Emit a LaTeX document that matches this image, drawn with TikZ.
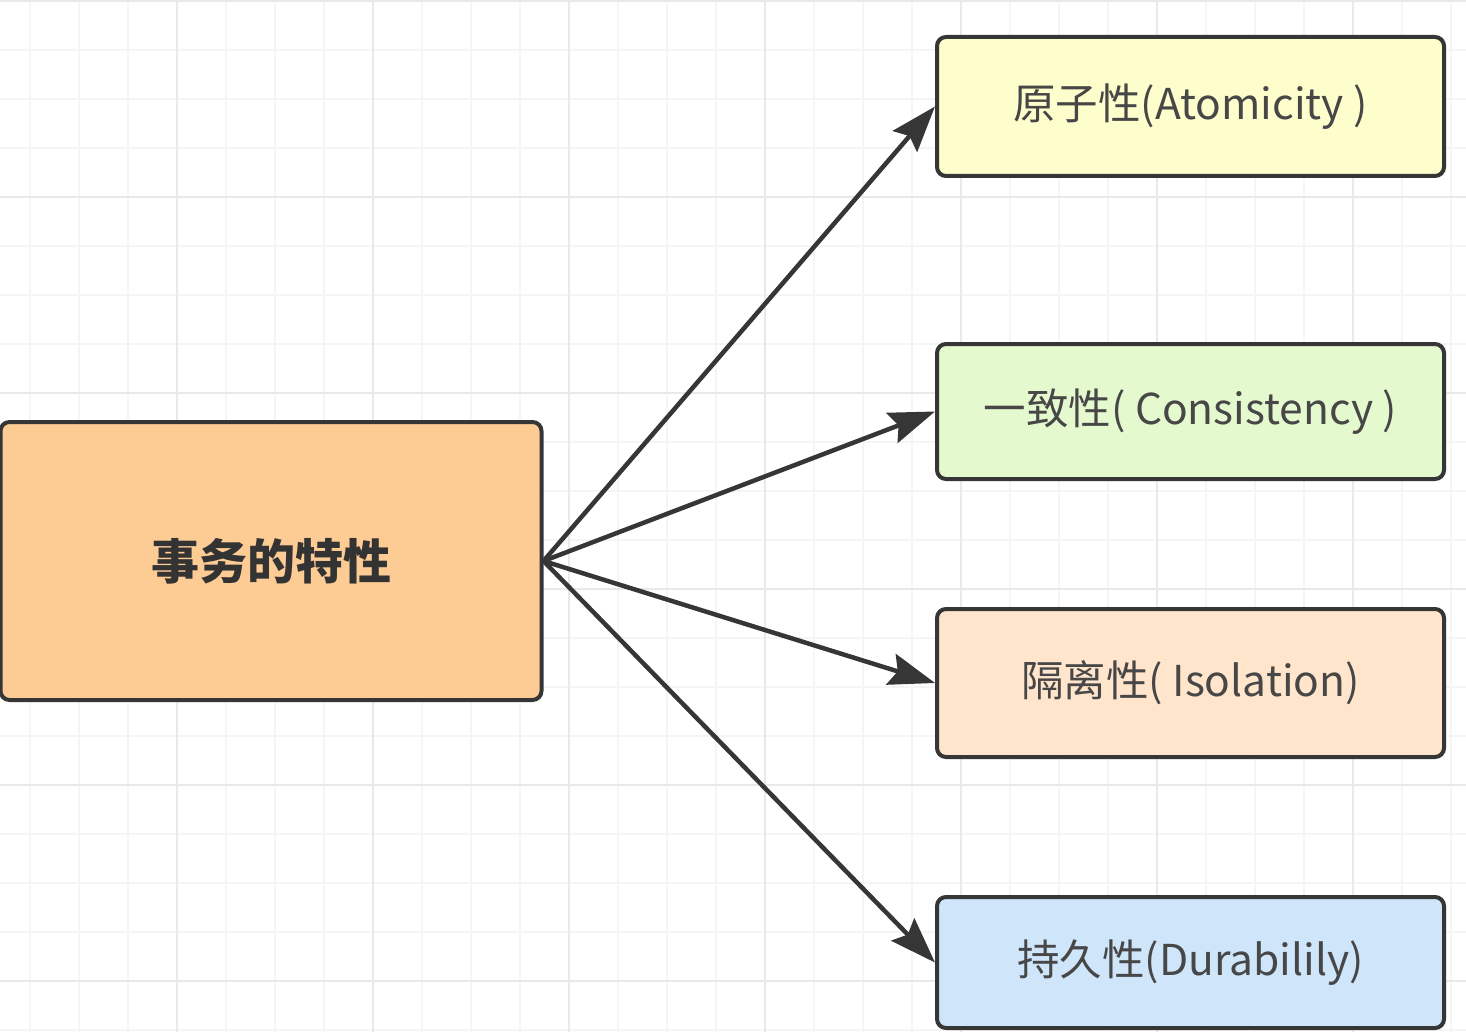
\documentclass[tikz,border=0pt]{standalone}
\usepackage{fontspec}
\newfontfamily\cjkfont{Noto Sans CJK SC}
\usetikzlibrary{arrows.meta}
\definecolor{gridminor}{HTML}{F5F5F5}
\definecolor{gridmajor}{HTML}{E9E9E9}
\definecolor{edgecol}{HTML}{363636}
\definecolor{txtcol}{HTML}{474747}
\definecolor{fillmain}{HTML}{FDCB94}
\definecolor{fillA}{HTML}{FEFECD}
\definecolor{fillC}{HTML}{E5F9CF}
\definecolor{fillI}{HTML}{FFE5CC}
\definecolor{fillD}{HTML}{CFE5FA}
\tikzset{
  box/.style={draw=edgecol, line width=4pt, rounded corners=9pt, inner sep=0pt,
    font=\cjkfont\fontsize{42.5}{50}\selectfont, text=txtcol},
  mainbox/.style={box, font=\cjkfont\bfseries\fontsize{48}{56}\selectfont, text=black!80},
  link/.style={draw=edgecol, line width=4.5pt,
    -{Stealth[length=46pt,width=32pt,inset=7pt]}},
}
\begin{document}
\begin{tikzpicture}[x=1pt,y=-1pt]
\fill[white] (0,0) rectangle (1466,1032);
\useasboundingbox (0,0) rectangle (1466,1032);
% grid
\foreach \x in {30,79,...,1466} \draw[gridminor, line width=1.2pt] (\x,0) -- (\x,1032);
\foreach \y in {1,50,...,1032} \draw[gridminor, line width=1.2pt] (0,\y) -- (1466,\y);
\foreach \x in {177,373,...,1466} \draw[gridmajor, line width=1.6pt] (\x,0) -- (\x,1032);
\foreach \y in {1,197,...,1032} \draw[gridmajor, line width=1.6pt] (0,\y) -- (1466,\y);
% nodes
\node[mainbox, fill=fillmain, minimum width=541pt, minimum height=278pt] (m) at (271,561) {事务的特性};
\node[box, fill=fillA, minimum width=507pt, minimum height=139pt] (a) at (1190.5,106.5) {原子性(Atomicity )};
\node[box, fill=fillC, minimum width=507pt, minimum height=135pt] (c) at (1190.5,411.5) {一致性( Consistency )};
\node[box, fill=fillI, minimum width=507pt, minimum height=148pt] (i) at (1190.5,683) {隔离性( Isolation)};
\node[box, fill=fillD, minimum width=507pt, minimum height=131pt] (d) at (1190.5,962.5) {持久性(Durabilily)};
% connectors
\draw[link] (m.east) -- (a.west);
\draw[link] (m.east) -- (c.west);
\draw[link] (m.east) -- (i.west);
\draw[link] (m.east) -- (d.west);
\end{tikzpicture}
\end{document}
